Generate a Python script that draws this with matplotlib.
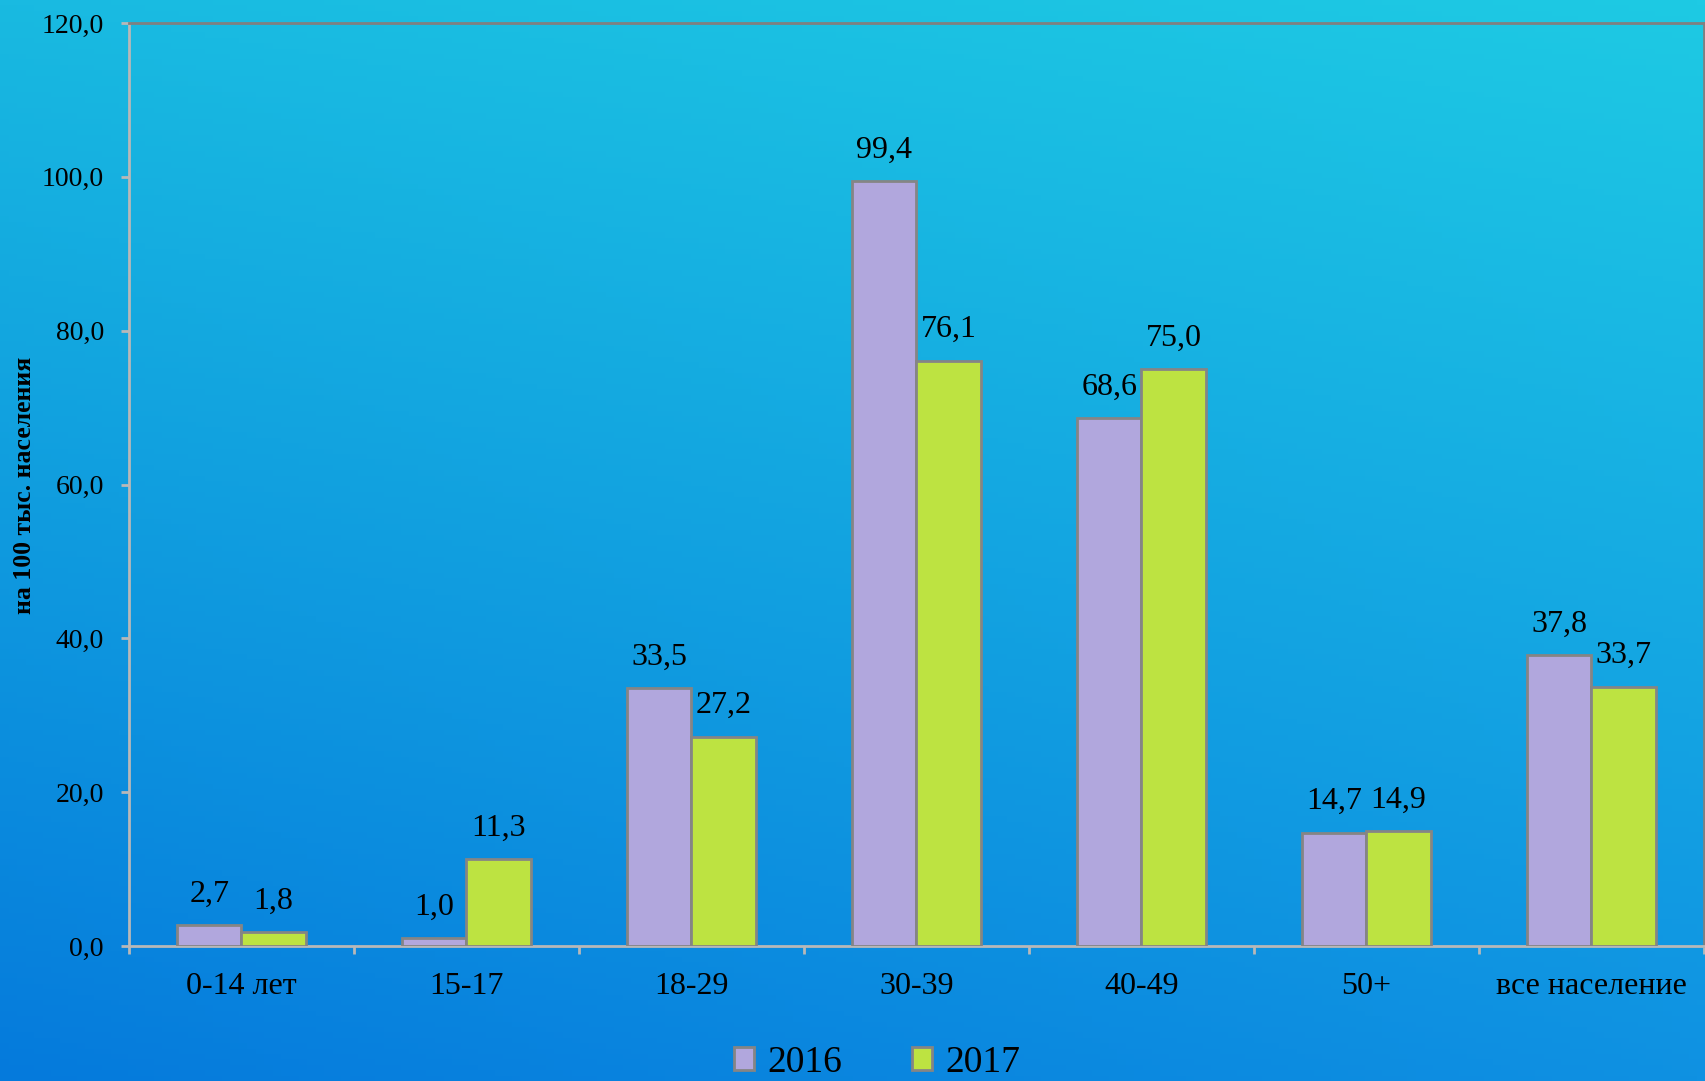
import matplotlib
matplotlib.use("Agg")
import matplotlib.pyplot as plt
import numpy as np
from matplotlib.patches import Patch

# age groups and rates per 100k population
groups = ["0-14 лет", "15-17", "18-29", "30-39", "40-49", "50+", "все население"]
y2016 = [2.7, 1.0, 33.5, 99.4, 68.6, 14.7, 37.8]
y2017 = [1.8, 11.3, 27.2, 76.1, 75.0, 14.9, 33.7]
years = ["2016", "2017"]

plt.rcParams['font.family'] = ['Liberation Serif', 'DejaVu Serif']

fig = plt.figure(figsize=(17.06, 10.81), dpi=100)

# background: cyan -> blue gradient, a bit lighter towards the right
bg = fig.add_axes([0, 0, 1, 1], zorder=-10)
tl, tr = np.array([25, 186, 225]), np.array([30, 202, 228])
bl, br = np.array([5, 122, 220]), np.array([15, 145, 226])
v = np.linspace(0, 1, 200)[:, None, None]
u = np.linspace(0, 1, 200)[None, :, None]
grad = ((1 - v) * ((1 - u) * tl + u * tr) + v * ((1 - u) * bl + u * br)) / 255
bg.imshow(grad, aspect='auto', extent=[0, 1, 0, 1])
bg.axis('off')

ax = fig.add_axes([0.0756, 0.1249, 0.9232, 0.8538])
ax.patch.set_alpha(0)

c16, c17, edge = "#b1a7dd", "#bde341", "#858585"
w = 0.285
x = np.arange(len(groups))
b1 = ax.bar(x - w / 2, y2016, w, color=c16, edgecolor=edge, linewidth=2, zorder=3)
b2 = ax.bar(x + w / 2, y2017, w, color=c17, edgecolor=edge, linewidth=2, zorder=3)

def fmt(v):
    return f"{v:.1f}".replace(".", ",")

for bars, vals in ((b1, y2016), (b2, y2017)):
    for b, v in zip(bars, vals):
        ax.annotate(fmt(v), (b.get_x() + b.get_width() / 2, v), xytext=(0, 12),
                    textcoords='offset points', ha='center', va='bottom', fontsize=23)

ax.set_xlim(-0.5, len(groups) - 0.5)
ax.set_ylim(0, 120)
ax.set_yticks(np.arange(0, 121, 20))
ax.set_yticklabels([fmt(v) for v in np.arange(0, 121, 20)], fontsize=20)
ax.set_xticks(np.arange(-0.5, len(groups), 1.0))
ax.set_xticklabels([])
ax.set_xticks(x, minor=True)
ax.set_xticklabels(groups, minor=True, fontsize=23)
ax.tick_params(axis='x', which='minor', length=0, pad=19)
ax.tick_params(axis='x', which='major', length=6, width=2, color='#b8b8b8', direction='out')
ax.tick_params(axis='y', length=6, width=2, color='#b8b8b8', direction='out', pad=12)

for s in ('left', 'bottom'):
    ax.spines[s].set_color('#b8b8b8')
    ax.spines[s].set_linewidth(2)
for s in ('top', 'right'):
    ax.spines[s].set_color('#808080')
    ax.spines[s].set_linewidth(2)

fig.text(0.0145, 0.551, "на 100 тыс. населения", rotation=90, ha='center', va='center',
         fontsize=18.5, fontweight='bold')

handles = [Patch(facecolor=c16, edgecolor=edge, linewidth=2),
           Patch(facecolor=c17, edgecolor=edge, linewidth=2)]
fig.legend(handles, years, loc='center', bbox_to_anchor=(0.514, 0.017), ncol=2,
           frameon=False, fontsize=27, handlelength=0.55, handleheight=0.55,
           handletextpad=0.35, columnspacing=1.85)

fig.savefig("out.png", dpi=100)
